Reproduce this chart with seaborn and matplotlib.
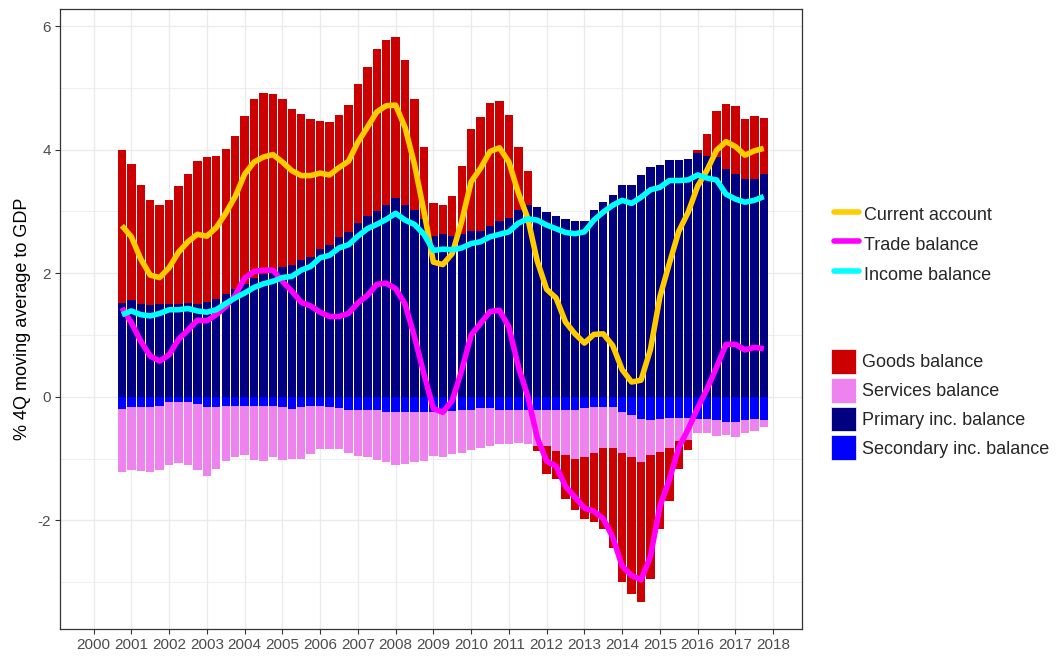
import numpy as np
import pandas as pd
import matplotlib
matplotlib.use("Agg")
import matplotlib.pyplot as plt
import seaborn as sns
from matplotlib.lines import Line2D
from matplotlib.patches import Patch

sns.set_theme(style="whitegrid")
plt.rcParams['font.family'] = ['Liberation Sans', 'DejaVu Sans']
plt.rcParams['axes.unicode_minus'] = False

# quarterly, 4Q moving averages in % of GDP (2000Q4 .. 2017Q4)
quarters = pd.date_range("2000-10-01", "2017-10-01", freq="QS")

goods = [2.47, 2.21, 1.93, 1.71, 1.61, 1.69, 1.91, 2.09, 2.31, 2.34,
         2.32, 2.35, 2.47, 2.71, 2.90, 2.94, 2.88, 2.72, 2.52, 2.36,
         2.24, 2.06, 1.98, 1.97, 2.05, 2.26, 2.41, 2.62, 2.66, 2.62,
         2.35, 1.79, 1.17, 0.52, 0.48, 0.64, 1.11, 1.65, 1.83, 1.99,
         1.95, 1.67, 1.01, 0.55, -0.08, -0.45, -0.45, -0.72, -0.83, -1.00,
         -1.12, -1.32, -1.62, -2.09, -2.21, -2.27, -2.01, -1.24, -0.86, -0.45,
         -0.17, 0.06, 0.36, 0.74, 1.06, 1.10, 0.98, 1.01, 0.90]

services = [-1.03, -1.01, -1.03, -1.05, -1.03, -1.01, -0.98, -1.01, -1.07, -1.11,
            -0.99, -0.89, -0.83, -0.79, -0.87, -0.89, -0.83, -0.85, -0.81, -0.83,
            -0.77, -0.69, -0.68, -0.67, -0.70, -0.74, -0.77, -0.80, -0.82, -0.87,
            -0.85, -0.82, -0.80, -0.71, -0.73, -0.70, -0.68, -0.65, -0.64, -0.61,
            -0.55, -0.54, -0.52, -0.54, -0.58, -0.59, -0.67, -0.73, -0.79, -0.80,
            -0.73, -0.65, -0.65, -0.65, -0.68, -0.69, -0.57, -0.53, -0.48, -0.37,
            -0.35, -0.24, -0.23, -0.26, -0.21, -0.25, -0.22, -0.21, -0.12]

primary = [1.52, 1.56, 1.50, 1.48, 1.50, 1.50, 1.50, 1.52, 1.50, 1.54,
           1.58, 1.66, 1.75, 1.83, 1.92, 1.98, 2.02, 2.10, 2.14, 2.22,
           2.26, 2.40, 2.46, 2.59, 2.67, 2.81, 2.93, 3.01, 3.11, 3.21,
           3.10, 3.03, 2.87, 2.61, 2.63, 2.61, 2.63, 2.69, 2.69, 2.77,
           2.84, 2.89, 3.03, 3.10, 3.07, 2.99, 2.93, 2.87, 2.85, 2.85,
           3.03, 3.16, 3.27, 3.43, 3.43, 3.59, 3.72, 3.75, 3.84, 3.84,
           3.85, 3.94, 3.90, 3.88, 3.68, 3.60, 3.52, 3.53, 3.61]

secondary = [-0.19, -0.17, -0.17, -0.17, -0.15, -0.09, -0.09, -0.09, -0.11, -0.17,
             -0.17, -0.15, -0.15, -0.15, -0.15, -0.15, -0.15, -0.17, -0.19, -0.17,
             -0.15, -0.15, -0.17, -0.18, -0.21, -0.21, -0.21, -0.22, -0.24, -0.24,
             -0.24, -0.24, -0.24, -0.24, -0.24, -0.23, -0.22, -0.21, -0.18, -0.18,
             -0.21, -0.22, -0.22, -0.22, -0.21, -0.21, -0.21, -0.21, -0.21, -0.18,
             -0.17, -0.17, -0.17, -0.25, -0.30, -0.36, -0.37, -0.36, -0.34, -0.34,
             -0.34, -0.35, -0.36, -0.37, -0.40, -0.40, -0.37, -0.35, -0.37]

df = pd.DataFrame({"date": quarters, "goods": goods, "services": services,
                   "primary": primary, "secondary": secondary})
df["t"] = df["date"].dt.year + (df["date"].dt.month - 1) / 12
df["trade"] = df["goods"] + df["services"]
df["income"] = df["primary"] + df["secondary"]
df["current"] = df["trade"] + df["income"]

col_goods, col_serv, col_prim, col_sec = "#CC0000", "#EE82EE", "#000080", "#0000FF"
col_ca, col_tb, col_ib = "#FFCC00", "#FF00FF", "#00FFFF"

fig, ax = plt.subplots(figsize=(10.56, 6.57), dpi=100)
plt.subplots_adjust(left=0.0568, right=0.759, top=0.9858, bottom=0.0422)

bar_kw = dict(width=0.222, linewidth=0, zorder=2)
g = df["goods"].to_numpy()
g_pos = np.where(g > 0, g, 0)
g_neg = np.where(g < 0, g, 0)

# positive side: primary, then goods on top
ax.bar(df["t"], df["primary"], bottom=0, color=col_prim, **bar_kw)
ax.bar(df["t"], g_pos, bottom=df["primary"], color=col_goods, **bar_kw)
# negative side: secondary, services, goods below
ax.bar(df["t"], df["secondary"], bottom=0, color=col_sec, **bar_kw)
ax.bar(df["t"], df["services"], bottom=df["secondary"], color=col_serv, **bar_kw)
ax.bar(df["t"], g_neg, bottom=df["secondary"] + df["services"], color=col_goods, **bar_kw)

line_kw = dict(linewidth=4.0, zorder=3, solid_joinstyle="round", solid_capstyle="butt")
sns.lineplot(data=df, x="t", y="current", color=col_ca, ax=ax, **line_kw)
sns.lineplot(data=df, x="t", y="trade", color=col_tb, ax=ax, **line_kw)
sns.lineplot(data=df, x="t", y="income", color=col_ib, ax=ax, **line_kw)

ax.set_xlim(1999.11, 2018.75)
ax.set_ylim(-3.76, 6.27)
years = list(range(2000, 2019))
ax.set_xticks(years)
ax.set_xticklabels([str(y) for y in years])
ax.set_yticks([-2, 0, 2, 4, 6])
ax.set_yticks([-3, -1, 1, 3, 5], minor=True)

ax.set_facecolor("white")
ax.grid(which="major", color="#EBEBEB", linewidth=1.0, zorder=0)
ax.grid(which="minor", axis="y", color="#EBEBEB", linewidth=0.6, zorder=0)
ax.set_axisbelow(True)
for s in ax.spines.values():
    s.set_color("#333333")
    s.set_linewidth(0.9)

ax.tick_params(axis="both", which="major", length=3.5, width=0.8, color="#333333",
               labelsize=11, labelcolor="#4D4D4D", pad=3, bottom=True, left=True)
ax.tick_params(which="minor", length=0)
ax.set_xlabel("")
ax.set_ylabel("% 4Q moving average to GDP", fontsize=13, color="black", labelpad=5)

line_handles = [Line2D([0], [0], color=col_ca, lw=4),
                Line2D([0], [0], color=col_tb, lw=4),
                Line2D([0], [0], color=col_ib, lw=4)]
fig.legend(line_handles, ["Current account", "Trade balance", "Income balance"],
           loc="center left", bbox_to_anchor=(0.79, 0.6286), frameon=False,
           fontsize=13, handlelength=1.35, handleheight=1.5, labelspacing=0.42,
           handletextpad=0.3, borderpad=0, borderaxespad=0)
fill_handles = [Patch(facecolor=c, edgecolor="white", linewidth=0.5)
                for c in (col_goods, col_serv, col_prim, col_sec)]
fig.legend(fill_handles, ["Goods balance", "Services balance",
                          "Primary inc. balance", "Secondary inc. balance"],
           loc="center left", bbox_to_anchor=(0.787, 0.3843), frameon=False,
           fontsize=13, handlelength=1.4, handleheight=1.75, labelspacing=0.22,
           handletextpad=0.3, borderpad=0, borderaxespad=0)

fig.savefig("out.png", dpi=100)
